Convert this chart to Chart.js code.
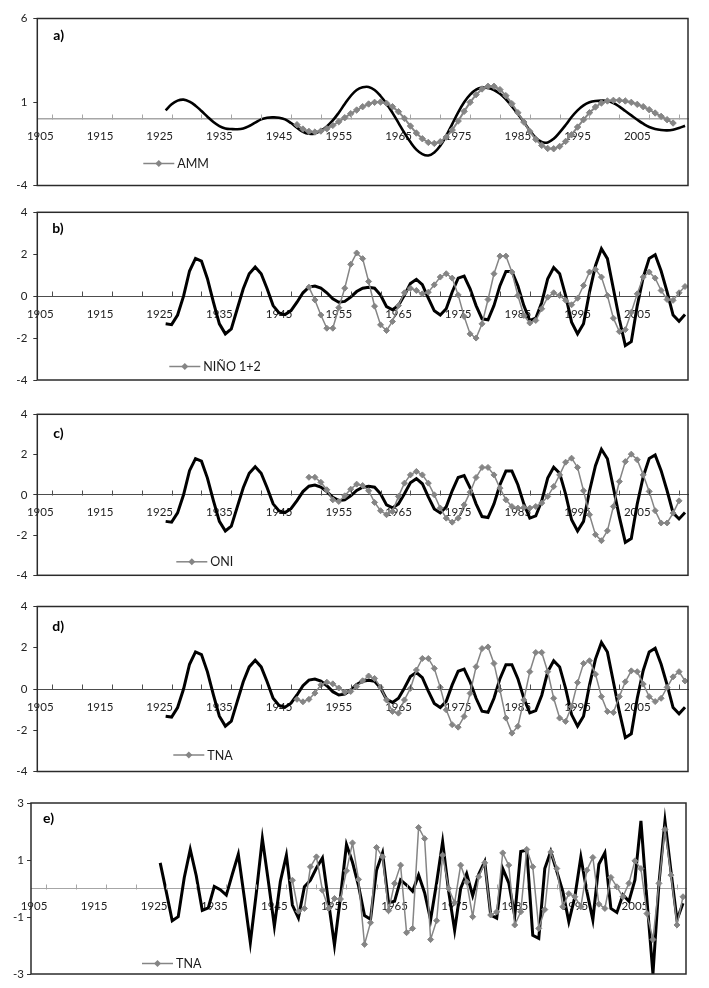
<!DOCTYPE html>
<html>
<head>
<meta charset="utf-8">
<script src="https://cdn.jsdelivr.net/npm/chart.js@4.4.1/dist/chart.umd.min.js"></script>
<style>
html,body{margin:0;padding:0;background:#fff;}
body{width:709px;height:988px;position:relative;overflow:hidden;}
canvas{position:absolute;left:0;}
</style>
</head>
<body>
<script>
// ---------------- DATA ----------------
const xTickLabels = ['1905','1915','1925','1935','1945','1955','1965','1975','1985','1995','2005'];
const yTicksA = [-4, 1, 6];
const yTicksBCD = [-4, -2, 0, 2, 4];
const yTicksE = [-3, -1, 1, 3];

// reconstructed series (black), years 1926–2013
const reconStart = 1926;
const reconA = [
  0.5, 0.86, 1.08, 1.14, 1.02, 0.78, 0.46, 0.12, -0.2, -0.44,
  -0.58, -0.62, -0.63, -0.58, -0.44, -0.24, -0.04, 0.06, 0.08, 0.06,
  -0.04, -0.26, -0.54, -0.78, -0.9, -0.88, -0.72, -0.46, -0.1, 0.36,
  0.88, 1.36, 1.72, 1.88, 1.9, 1.72, 1.36, 0.9, 0.35, -0.25,
  -0.85, -1.4, -1.85, -2.12, -2.2, -2.02, -1.62, -1.02, -0.32, 0.38,
  0.98, 1.44, 1.74, 1.86, 1.84, 1.72, 1.5, 1.16, 0.74, 0.28,
  -0.2, -0.7, -1.14, -1.4, -1.42, -1.2, -0.82, -0.38, 0.1, 0.5,
  0.8, 0.98, 1.06, 1.08, 1.06, 0.94, 0.72, 0.46, 0.2, -0.06,
  -0.3, -0.5, -0.62, -0.68, -0.7, -0.66, -0.56, -0.42
];
const reconBCD = [
  -1.32, -1.36, -0.9, 0.0, 1.2, 1.8, 1.67, 0.83, -0.29, -1.32,
  -1.8, -1.56, -0.6, 0.35, 1.07, 1.39, 1.07, 0.35, -0.45, -0.8,
  -0.88, -0.69, -0.29, 0.16, 0.43, 0.48, 0.38, 0.16, -0.13, -0.29,
  -0.25, -0.05, 0.22, 0.38, 0.42, 0.38, 0.05, -0.5, -0.65, -0.45,
  0.05, 0.6, 0.8, 0.55, -0.1, -0.7, -0.9, -0.6, 0.2, 0.86,
  0.96, 0.35, -0.45, -1.08, -1.13, -0.45, 0.5, 1.18, 1.18, 0.5,
  -0.45, -1.16, -1.05, -0.3, 0.83, 1.37, 1.07, 0.03, -1.24, -1.8,
  -1.32, 0.19, 1.45, 2.26, 1.79, 0.35, -1.1, -2.36, -2.17, -0.45,
  0.9, 1.8, 1.98, 1.2, 0.2, -0.9, -1.2, -0.88
];
const reconE = [
  0.9, -0.1, -1.13, -0.99, 0.38, 1.37, 0.45, -0.77, -0.68, 0.07,
  -0.04, -0.23, 0.5, 1.2, -0.32, -1.9, -0.15, 1.75, 0.25, -1.32,
  0.25, 1.17, -0.58, -1.03, 0.06, 0.29, 0.72, 1.07, -0.45, -1.99,
  -0.3, 1.54, 0.92, 0.1, -0.95, -1.08, 0.64, 1.25, -0.5, -0.45,
  0.3, 0.12, -0.1, 0.47, -0.15, -1.1, 0.2, 1.64, -0.1, -1.47,
  0.0, 0.52, -0.25, 0.5, 0.94, -0.93, -1.04, 0.7, 0.2, -0.96,
  1.3, 1.35, -1.64, -1.75, 0.7, 1.3, 0.6, -0.1, -1.17, -0.3,
  1.1, -0.1, -1.1, 0.85, 1.25, -0.7, -0.84, -0.22, -0.45, 0.3,
  2.37, -0.4, -3.0, 0.18, 2.37, 0.6, -1.1, -0.52
];

// observed indices (grey)
const ammStart = 1948; // 1948–2011
const amm = [
  -0.36, -0.62, -0.76, -0.8, -0.74, -0.6, -0.4, -0.18, 0.06, 0.3,
  0.52, 0.72, 0.88, 0.98, 1.0, 0.92, 0.72, 0.42, 0.02, -0.44,
  -0.86, -1.2, -1.42, -1.48, -1.38, -1.1, -0.68, -0.14, 0.44, 0.98,
  1.44, 1.78, 1.94, 1.94, 1.74, 1.38, 0.9, 0.36, -0.2, -0.76,
  -1.24, -1.6, -1.78, -1.8, -1.66, -1.36, -0.96, -0.5, -0.06, 0.36,
  0.7, 0.94, 1.06, 1.1, 1.1, 1.06, 0.98, 0.86, 0.72, 0.54,
  0.34, 0.14, -0.06, -0.26
];
const ninoStart = 1950; // 1950–2013
const nino12 = [
  0.43, -0.18, -0.9, -1.53, -1.53, -0.55, 0.38, 1.52, 2.06, 1.79,
  0.7, -0.48, -1.37, -1.64, -1.21, -0.45, 0.16, 0.38, 0.27, 0.11,
  0.19, 0.54, 0.91, 1.07, 0.86, 0.06, -0.97, -1.8, -2.0, -1.32,
  -0.16, 1.07, 1.91, 1.91, 1.15, 0.03, -0.92, -1.28, -1.16, -0.6,
  -0.05, 0.16, 0.03, -0.2, -0.41, -0.1, 0.51, 1.15, 1.28, 0.91,
  0.03, -1.05, -1.69, -1.6, -0.77, 0.11, 0.91, 1.15, 0.86, 0.27,
  -0.16, -0.2, 0.16, 0.46
];
const oniStart = 1950; // 1950–2012
const oni = [
  0.87, 0.87, 0.62, 0.25, -0.25, -0.33, -0.05, 0.28, 0.53, 0.46,
  0.2, -0.38, -0.79, -0.99, -0.83, -0.08, 0.58, 0.99, 1.16, 0.99,
  0.58, 0.0, -0.66, -1.16, -1.36, -1.16, -0.5, 0.13, 0.86, 1.36,
  1.36, 0.99, 0.33, -0.25, -0.58, -0.66, -0.63, -0.66, -0.58, -0.41,
  -0.08, 0.41, 0.99, 1.62, 1.82, 1.36, 0.2, -0.99, -1.98, -2.28,
  -1.79, -0.58, 0.66, 1.65, 2.02, 1.74, 0.99, 0.17, -0.79, -1.4,
  -1.4, -0.91, -0.3
];
const tnaStart = 1948; // 1948–2013
const tnaD = [
  -0.5, -0.62, -0.5, -0.2, 0.2, 0.33, 0.25, 0.05, -0.15, -0.12,
  0.12, 0.4, 0.63, 0.51, 0.08, -0.53, -1.09, -1.17, -0.53, 0.03,
  0.92, 1.48, 1.48, 1.0, 0.08, -1.01, -1.73, -1.85, -1.33, -0.21,
  1.08, 1.96, 2.04, 1.24, -0.05, -1.41, -2.14, -1.81, -0.53, 0.84,
  1.77, 1.77, 0.84, -0.45, -1.41, -1.57, -0.85, 0.31, 1.24, 1.37,
  0.72, -0.37, -1.09, -1.14, -0.37, 0.35, 0.88, 0.84, 0.24, -0.37,
  -0.61, -0.45, 0.08, 0.59, 0.84, 0.39
];
const tnaE = [
  0.29, -0.8, -0.7, 0.76, 1.11, -0.06, -0.7, -0.35, -0.37, 0.62,
  1.6, 0.32, -1.96, -1.2, 1.44, 1.11, -0.78, 0.18, 0.82, -1.55,
  -1.4, 2.14, 1.75, -1.79, -1.13, 1.17, 0.0, -0.5, 0.82, 0.23,
  -0.99, 0.41, 0.9, -0.93, -0.82, 1.25, 0.82, -1.28, -0.82, 1.37,
  0.76, -1.4, -0.74, 1.28, 0.7, -0.64, -0.18, -0.29, -0.64, 0.64,
  1.09, -0.55, -0.7, 0.39, 0.06, -0.29, 0.18, 0.97, 0.7, -0.88,
  -1.79, 0.18, 2.07, 0.47, -1.28, -0.29
];

// ---------------- RENDERING ----------------
function pts(start, vals) { return vals.map((v, i) => ({ x: start + i, y: v })); }

const GREY = '#858585';
const FONT = 'Lato, "Open Sans", sans-serif';

const decor = {
  id: 'decor',
  afterDraw(chart, args, o) {
    const { ctx, chartArea: ca, scales } = chart;
    const xs = scales.x, ys = scales.y;
    ctx.save();
    // minor tick marks on zero axis (pointing up)
    const y0 = Math.round(ys.getPixelForValue(0)) + 0.5;
    ctx.strokeStyle = o.axisColor; ctx.lineWidth = 1;
    for (let t = o.tickFrom; t <= xs.max; t += 5) {
      const px = Math.round(xs.getPixelForValue(t)) + 0.5;
      ctx.beginPath(); ctx.moveTo(px, y0); ctx.lineTo(px, y0 - 5); ctx.stroke();
    }
    // plot frame
    ctx.strokeStyle = '#2b2b2b'; ctx.lineWidth = 1.5;
    ctx.strokeRect(ca.left, ca.top, ca.right - ca.left, ca.bottom - ca.top);
    // panel letter
    ctx.fillStyle = '#000'; ctx.font = 'bold 14px ' + FONT;
    ctx.textBaseline = 'middle'; ctx.textAlign = 'left';
    ctx.fillText(o.label, ca.left + o.labelDx, ca.top + o.labelDy);
    // legend (grey series)
    const lx = ca.left + o.legDx, ly = ca.bottom - o.legDy;
    ctx.strokeStyle = GREY; ctx.lineWidth = 1.5;
    ctx.beginPath(); ctx.moveTo(lx, ly); ctx.lineTo(lx + 31, ly); ctx.stroke();
    const cx = lx + 15.5, r = 3.5;
    ctx.fillStyle = GREY; ctx.beginPath();
    ctx.moveTo(cx, ly - r); ctx.lineTo(cx + r, ly); ctx.lineTo(cx, ly + r); ctx.lineTo(cx - r, ly);
    ctx.closePath(); ctx.fill();
    ctx.fillStyle = '#1a1a1a'; ctx.font = '12.5px ' + FONT;
    ctx.fillText(o.legText, lx + 34, ly + 0.5);
    ctx.restore();
  }
};

function makePanel(p) {
  const cTop = Math.floor(p.boxTop) - 20;
  const cH = Math.ceil(p.boxBottom) + 20 - cTop;
  const canvas = document.createElement('canvas');
  canvas.width = 709; canvas.height = cH;
  canvas.style.top = cTop + 'px';
  canvas.style.width = '709px'; canvas.style.height = cH + 'px';
  document.body.appendChild(canvas);

  const grey = {
    data: pts(p.greyStart, p.grey),
    borderColor: GREY, borderWidth: p.greyWidth,
    pointStyle: 'rectRot', pointRadius: p.greyRadius,
    pointBackgroundColor: GREY, pointBorderColor: GREY, pointBorderWidth: 1,
    tension: 0, order: 0
  };
  const black = {
    data: pts(reconStart, p.black),
    borderColor: '#000', borderWidth: p.blackWidth,
    pointRadius: 0, tension: p.tension, order: 1
  };

  new Chart(canvas, {
    type: 'line',
    data: { datasets: [grey, black] },
    options: {
      responsive: false, animation: false, events: [],
      layout: { padding: { top: p.boxTop - cTop, bottom: cTop + cH - p.boxBottom, left: p.boxLeft - p.yW, right: 709 - p.boxRight } },
      scales: {
        x: {
          type: 'linear', min: 1904.5, max: 2013.5, position: { y: 0 },
          afterBuildTicks: a => { a.ticks = xTickLabels.map(l => ({ value: Number(l) })); },
          ticks: { callback: v => (xTickLabels.find(l => Number(l) === v) || ''), autoSkip: false, maxRotation: 0,
                   font: { family: FONT, size: 11.5 }, color: '#222', padding: p.xPad },
          grid: { display: true, drawOnChartArea: false, drawTicks: false },
          border: { display: true, color: p.axisColor, width: p.axisWidth }
        },
        y: {
          type: 'linear', min: p.yTicks[0], max: p.yTicks[p.yTicks.length - 1],
          afterBuildTicks: a => { a.ticks = p.yTicks.map(v => ({ value: v })); },
          afterFit: a => { a.width = p.yW; },
          ticks: { callback: v => String(v), font: { family: FONT, size: 11.5 }, color: '#222', padding: p.yPad },
          grid: { display: true, drawOnChartArea: false, drawTicks: true, tickLength: 4, color: '#333' },
          border: { display: false }
        }
      },
      plugins: {
        legend: { display: false }, tooltip: { enabled: false },
        decor: { axisColor: p.axisColor, tickFrom: 1907, label: p.label, labelDx: p.labelDx, labelDy: p.labelDy,
                 legText: p.legText, legDx: p.legDx, legDy: p.legDy }
      }
    },
    plugins: [decor]
  });
}

const panels = [
  { label: 'a)', boxTop: 18.5, boxBottom: 185.5, boxLeft: 37.3, boxRight: 688, yW: 30, yPad: 6, xPad: 11,
    yTicks: yTicksA, black: reconA, tension: 0.4, blackWidth: 2.6, grey: amm, greyStart: ammStart,
    greyWidth: 2, greyRadius: 3.2, axisColor: '#a6a6a6', axisWidth: 1.5,
    labelDx: 16, labelDy: 17, legText: 'AMM', legDx: 106, legDy: 22 },
  { label: 'b)', boxTop: 212.3, boxBottom: 380, boxLeft: 37.3, boxRight: 688, yW: 30, yPad: 6, xPad: 11,
    yTicks: yTicksBCD, black: reconBCD, tension: 0, blackWidth: 3, grey: nino12, greyStart: ninoStart,
    greyWidth: 1.5, greyRadius: 3, axisColor: '#4d4d4d', axisWidth: 1,
    labelDx: 15, labelDy: 16, legText: 'NIÑO 1+2', legDx: 132, legDy: 13.5 },
  { label: 'c)', boxTop: 414.3, boxBottom: 575.3, boxLeft: 37.3, boxRight: 688, yW: 30, yPad: 6, xPad: 11,
    yTicks: yTicksBCD, black: reconBCD, tension: 0, blackWidth: 3, grey: oni, greyStart: oniStart,
    greyWidth: 1.5, greyRadius: 3, axisColor: '#4d4d4d', axisWidth: 1,
    labelDx: 16, labelDy: 19, legText: 'ONI', legDx: 139, legDy: 13.5 },
  { label: 'd)', boxTop: 606.5, boxBottom: 771.5, boxLeft: 37.3, boxRight: 688, yW: 30, yPad: 6, xPad: 11,
    yTicks: yTicksBCD, black: reconBCD, tension: 0, blackWidth: 3, grey: tnaD, greyStart: tnaStart,
    greyWidth: 1.5, greyRadius: 3, axisColor: '#4d4d4d', axisWidth: 1,
    labelDx: 15, labelDy: 20, legText: 'TNA', legDx: 136, legDy: 16.5 },
  { label: 'e)', boxTop: 803, boxBottom: 974, boxLeft: 31, boxRight: 686, yW: 25, yPad: 3, xPad: 11,
    yTicks: yTicksE, black: reconE, tension: 0, blackWidth: 3, grey: tnaE, greyStart: tnaStart,
    greyWidth: 1.5, greyRadius: 3, axisColor: '#a6a6a6', axisWidth: 1,
    labelDx: 12, labelDy: 15, legText: 'TNA', legDx: 111, legDy: 10.5 }
];

panels.forEach(makePanel);
</script>
</body>
</html>
